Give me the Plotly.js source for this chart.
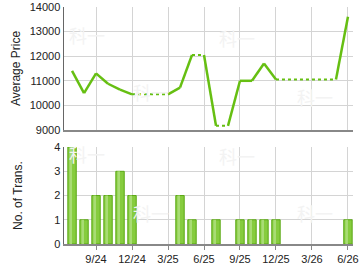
<!DOCTYPE html>
<html>
<head>
<meta charset="utf-8">
<script src="https://cdn.plot.ly/plotly-3.0.1.min.js"></script>
<style>
html,body{margin:0;padding:0;background:#fff;}
#chart{width:360px;height:270px;}
</style>
</head>
<body>
<div id="chart"></div>
<script>
// Data
var months = ["7/24","8/24","9/24","10/24","11/24","12/24","1/25","2/25","3/25","4/25","5/25","6/25",
              "7/25","8/25","9/25","10/25","11/25","12/25","1/26","2/26","3/26","4/26","5/26","6/26"];
var avgPrice = [11400,10500,11300,10880,10640,10450,null,null,null,10720,12050,null,
                9170,null,11000,11000,11700,11050,null,null,null,null,null,13600];
var transCount = [4,1,2,2,3,2,0,0,0,2,1,0,1,0,1,1,1,1,0,0,0,0,0,1];
var tickLabels = ["9/24","12/24","3/25","6/25","9/25","12/25","3/26","6/26"];

// carry forward for months without transactions
var filled = [];
for (var i = 0; i < avgPrice.length; i++) {
  filled.push(avgPrice[i] !== null ? avgPrice[i] : filled[i-1]);
}
var sx = [], sy = [], dx = [], dy = [];
for (var j = 0; j < months.length - 1; j++) {
  if (avgPrice[j+1] !== null) {
    sx.push(months[j], months[j+1], null); sy.push(filled[j], filled[j+1], null);
  } else {
    dx.push(months[j], months[j+1], null); dy.push(filled[j], filled[j+1], null);
  }
}
var barY = transCount.map(function(v){ return v > 0 ? v : null; });

var green = "#66bf12";
var gridc = "#d4d4d4";
var font = {family: "Liberation Sans, Arial, sans-serif", size: 11, color: "#222"};

var traces = [
  {x: sx, y: sy, type: "scatter", mode: "lines", xaxis: "x", yaxis: "y",
   line: {color: green, width: 2.5}, connectgaps: false, hoverinfo: "skip"},
  {x: dx, y: dy, type: "scatter", mode: "lines", xaxis: "x", yaxis: "y",
   line: {color: green, width: 2, dash: "dot"}, connectgaps: false, hoverinfo: "skip"},
  {x: months, y: barY, type: "bar", xaxis: "x2", yaxis: "y2", width: 0.7,
   marker: {color: "#86cc3e", line: {color: "#5aa814", width: 1}}, hoverinfo: "skip"},
  {x: months, y: barY, type: "bar", xaxis: "x2", yaxis: "y2", width: 0.22, offset: -0.22,
   marker: {color: "#a8dc74", line: {width: 0}}, hoverinfo: "skip"}
];

var xcommon = {
  type: "category", categoryorder: "array", categoryarray: months,
  range: [-0.67, 23.42], tickvals: tickLabels, ticktext: tickLabels,
  showgrid: true, gridcolor: gridc, gridwidth: 1,
  showline: true, linecolor: "#888", linewidth: 1.5,
  zeroline: false, tickfont: font, fixedrange: true
};

var wm = {family: "Noto Sans CJK SC", size: 18, color: "#f3f3f3"};
function mark(x, y) {
  return {text: "科一", xref: "paper", yref: "paper", x: x, y: y, xanchor: "center", yanchor: "middle",
          showarrow: false, font: wm};
}

var layout = {
  width: 360, height: 270,
  margin: {l: 64, r: 7, t: 7, b: 26},
  paper_bgcolor: "#fff", plot_bgcolor: "#fff",
  showlegend: false, barmode: "overlay", font: font,
  xaxis: Object.assign({}, xcommon, {anchor: "y", showticklabels: false, ticks: ""}),
  xaxis2: Object.assign({}, xcommon, {anchor: "y2", ticks: "outside", ticklen: 4, tickcolor: "#888"}),
  yaxis: {domain: [0.481, 1], range: [9000, 14000], dtick: 1000, tick0: 9000, tickformat: "d",
          showgrid: true, gridcolor: gridc, showline: true, linecolor: "#666", linewidth: 1.5,
          zeroline: false, ticks: "", tickfont: font,
          title: {text: "Average Price", font: {family: font.family, size: 12, color: "#222"}, standoff: 6}},
  yaxis2: {domain: [0, 0.409], range: [0, 4], dtick: 1, tick0: 0,
           showgrid: true, gridcolor: gridc, showline: true, linecolor: "#666", linewidth: 1.5,
           zeroline: false, ticks: "", tickfont: font,
           title: {text: "No. of Trans.", font: {family: font.family, size: 12, color: "#222"}, standoff: 29}},
  annotations: [
    mark(0.08, 0.88), mark(0.30, 0.64), mark(0.60, 0.87), mark(0.87, 0.62),
    mark(0.08, 0.38), mark(0.30, 0.13), mark(0.60, 0.37), mark(0.87, 0.13)
  ]
};

Plotly.newPlot("chart", traces, layout, {staticPlot: true, displayModeBar: false});
</script>
</body>
</html>
